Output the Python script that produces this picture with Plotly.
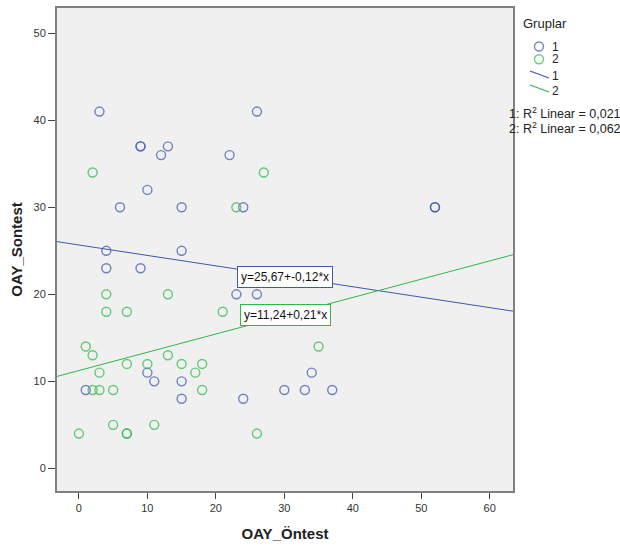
import plotly.graph_objects as go

# ---- data ----
g1_x = [3, 26, 9, 9, 13, 12, 22, 10, 6, 15, 24, 52, 52, 4, 15, 4, 9, 23, 26, 10, 34, 11, 15, 1, 30, 33, 37, 15, 24]
g1_y = [41, 41, 37, 37, 37, 36, 36, 32, 30, 30, 30, 30, 30, 25, 25, 23, 23, 20, 20, 11, 11, 10, 10, 9, 9, 9, 9, 8, 8]
g2_x = [2, 27, 23, 4, 13, 4, 7, 21, 1, 35, 2, 13, 7, 10, 15, 18, 3, 17, 2, 3, 5, 18, 5, 11, 0, 7, 7, 26]
g2_y = [34, 34, 30, 20, 20, 18, 18, 18, 14, 14, 13, 13, 12, 12, 12, 12, 11, 11, 9, 9, 9, 9, 5, 5, 4, 4, 4, 4]
groups = ["1", "2"]
intercepts = [25.67, 11.24]
slopes = [-0.12, 0.21]
r2 = ["0,021", "0,062"]
eq_labels = ["y=25,67+-0,12*x", "y=11,24+0,21*x"]
x_ticks = [0, 10, 20, 30, 40, 50, 60]
y_ticks = [0, 10, 20, 30, 40, 50]

# ---- style ----
colors = ["#3e58ac", "#2eb848"]
mcolors = ["rgba(62,88,172,0.72)", "rgba(46,184,72,0.72)"]
x_range = [-3.2, 63.4]
y_range = [-2.6, 52.9]
FONT = "Liberation Sans, Arial, sans-serif"

fig = go.Figure()
for xs, ys, mc in [(g1_x, g1_y, mcolors[0]), (g2_x, g2_y, mcolors[1])]:
    fig.add_trace(go.Scatter(
        x=xs, y=ys, mode="markers", showlegend=False, cliponaxis=False,
        marker=dict(symbol="circle-open", size=9, color=mc, line=dict(width=1.4, color=mc)),
    ))

for b0, b1, c in zip(intercepts, slopes, colors):
    fig.add_trace(go.Scatter(
        x=x_range, y=[b0 + b1 * x_range[0], b0 + b1 * x_range[1]],
        mode="lines", showlegend=False, line=dict(color=c, width=1),
    ))

# custom layout helpers (pixel -> paper)
L, R, T, B = 57, 513, 8, 491
W, H = R - L, B - T
px = lambda x: (x - L) / W
py = lambda y: (B - y) / H

# equation boxes
for txt, c, cy in zip(eq_labels, colors, [277, 315]):
    fig.add_annotation(
        x=px(285), y=py(cy), xref="paper", yref="paper", text=txt, showarrow=False,
        font=dict(family=FONT, size=12, color="#111"),
        bgcolor="white", bordercolor=c, borderwidth=1, borderpad=3,
    )

fig.add_annotation(x=px(521), y=py(24), xref="paper", yref="paper", text="Gruplar",
                   showarrow=False, xanchor="left", yanchor="middle",
                   font=dict(family=FONT, size=13, color="#222"))
for i, (g, c) in enumerate(zip(groups, mcolors)):
    cy = 46.5 + 12.7 * i
    fig.add_shape(type="circle", xref="paper", yref="paper",
                  x0=px(534.5), x1=px(543.5), y0=py(cy - 4.5), y1=py(cy + 4.5),
                  line=dict(color=c, width=1.4))
    fig.add_annotation(x=px(550), y=py(cy), xref="paper", yref="paper", text=g,
                       showarrow=False, xanchor="left", yanchor="middle",
                       font=dict(family=FONT, size=12, color="#222"))
for i, (g, c) in enumerate(zip(groups, colors)):
    y0, y1 = 71 + 14 * i, 78 + 14 * i
    fig.add_shape(type="line", xref="paper", yref="paper",
                  x0=px(530), x1=px(549), y0=py(y0), y1=py(y1),
                  line=dict(color=c, width=1.2))
    fig.add_annotation(x=px(550), y=py(76 + 15 * i), xref="paper", yref="paper", text=g,
                       showarrow=False, xanchor="left", yanchor="middle",
                       font=dict(family=FONT, size=12, color="#222"))
for i, (g, v) in enumerate(zip(groups, r2)):
    fig.add_annotation(x=px(507), y=py(113 + 15 * i), xref="paper", yref="paper",
                       text=f"{g}: R<sup>2</sup> Linear = {v}",
                       showarrow=False, xanchor="left", yanchor="middle",
                       font=dict(family=FONT, size=12.5, color="#222"))

fig.update_layout(
    width=620, height=547,
    margin=dict(l=L, r=620 - R, t=T, b=547 - B),
    paper_bgcolor="white", plot_bgcolor="#f0f0f0",
    font=dict(family=FONT, size=11, color="#333"),
    xaxis=dict(range=x_range, tickvals=x_ticks, ticks="outside", ticklen=6, tickcolor="#444",
               showgrid=False, zeroline=False, showline=True, linecolor="#808080", linewidth=2,
               mirror=True, automargin=False,
               title=dict(text="<b>OAY_Öntest</b>", font=dict(size=15, color="#222"), standoff=15)),
    yaxis=dict(range=y_range, tickvals=y_ticks, ticks="outside", ticklen=7, tickcolor="#444",
               showgrid=False, zeroline=False, showline=True, linecolor="#808080", linewidth=2,
               mirror=True, automargin=False,
               title=dict(text="<b>OAY_Sontest</b>", font=dict(size=15, color="#222"), standoff=7)),
)

fig.write_html("out.html", config={"displayModeBar": False},
               post_script="document.body.style.margin='0';document.body.style.overflow='hidden';")
